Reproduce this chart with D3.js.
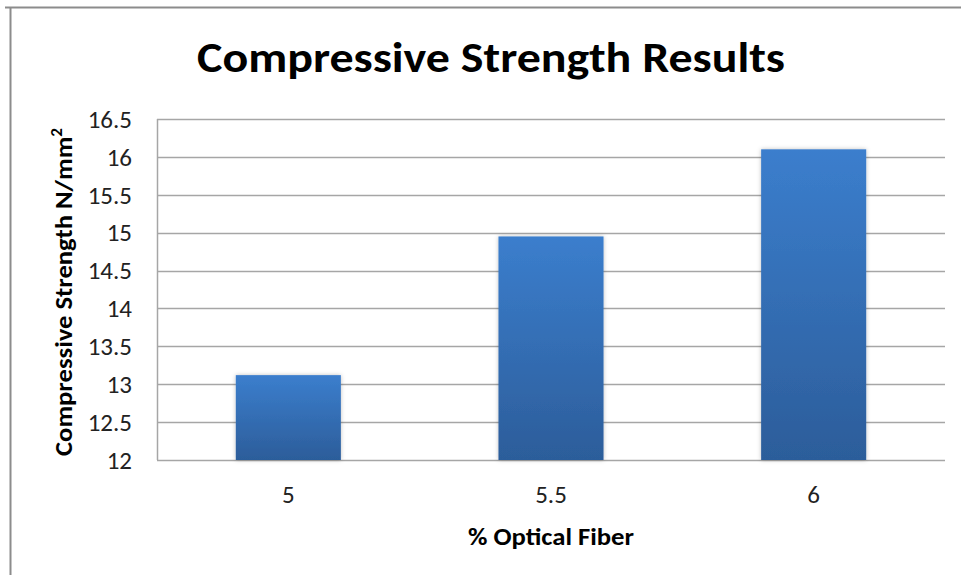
<!DOCTYPE html>
<html><head><meta charset="utf-8">
<script src="https://cdn.jsdelivr.net/npm/d3@7"></script>
<style>body{margin:0;background:#fff}svg{display:block}</style>
</head><body>
<script>
const categories = ["5", "5.5", "6"];
const values = [13.12, 14.95, 16.1];
const yTicks = [12, 12.5, 13, 13.5, 14, 14.5, 15, 15.5, 16, 16.5];
const title = "Compressive Strength Results";
const xTitle = "% Optical Fiber";

const W = 961, H = 575;
const m = {left: 157, right: 945, top: 119, bottom: 460};
const svg = d3.select("body").append("svg").attr("width", W).attr("height", H);
const font = "Carlito, 'Open Sans', 'Liberation Sans', sans-serif";

// frame
svg.append("line").attr("x1", 10.5).attr("x2", 10.5).attr("y1", 8).attr("y2", H).attr("stroke", "#8c8c8c").attr("stroke-width", 2);
svg.append("line").attr("x1", 5).attr("x2", W).attr("y1", 7.5).attr("y2", 7.5).attr("stroke", "#8c8c8c").attr("stroke-width", 2);

const defs = svg.append("defs");
const grad = defs.append("linearGradient").attr("id", "bg").attr("x1", 0).attr("x2", 0).attr("y1", 0).attr("y2", 1);
grad.append("stop").attr("offset", "0%").attr("stop-color", "#3b7ecd");
grad.append("stop").attr("offset", "100%").attr("stop-color", "#2c5d9a");
const f = defs.append("filter").attr("id", "sh").attr("x", "-20%").attr("y", "-20%").attr("width", "140%").attr("height", "140%");
f.append("feDropShadow").attr("dx", 0).attr("dy", 0).attr("stdDeviation", 2).attr("flood-color", "#000").attr("flood-opacity", 0.25);

const y = d3.scaleLinear().domain([12, 16.5]).range([m.bottom, m.top]);
const x = d3.scaleBand().domain(categories).range([m.left, m.right]).paddingInner(0).paddingOuter(0);
const barW = x.bandwidth() * 0.4;

// gridlines
svg.append("g").selectAll("line").data(yTicks).join("line")
  .attr("x1", m.left).attr("x2", m.right)
  .attr("y1", d => Math.round(y(d)) + 0.5).attr("y2", d => Math.round(y(d)) + 0.5)
  .attr("stroke", "#a6a6a6").attr("stroke-width", 1.5);
svg.append("line").attr("x1", m.left + 0.5).attr("x2", m.left + 0.5).attr("y1", m.top).attr("y2", m.bottom)
  .attr("stroke", "#a6a6a6").attr("stroke-width", 1.5);

// bars
svg.append("g").selectAll("rect").data(values).join("rect")
  .attr("x", (d, i) => x(categories[i]) + x.bandwidth() / 2 - barW / 2)
  .attr("width", barW)
  .attr("y", d => y(d))
  .attr("height", d => y(12) - y(d))
  .attr("fill", "url(#bg)")
  .attr("filter", "url(#sh)");

// y tick labels
svg.append("g").selectAll("text").data(yTicks).join("text")
  .attr("x", 132).attr("y", d => y(d)).attr("dy", "0.35em")
  .attr("text-anchor", "end").attr("font-family", font).attr("font-size", 25).attr("fill", "#222")
  .text(d => d);

// x tick labels
svg.append("g").selectAll("text").data(categories).join("text")
  .attr("x", d => x(d) + x.bandwidth() / 2).attr("y", 503)
  .attr("text-anchor", "middle").attr("font-family", font).attr("font-size", 25).attr("fill", "#222")
  .text(d => d);

// titles
svg.append("text").attr("x", 491).attr("y", 72).attr("text-anchor", "middle")
  .attr("font-family", font).attr("font-weight", "bold").attr("font-size", 43).attr("fill", "#000")
  .attr("textLength", 588).attr("lengthAdjust", "spacingAndGlyphs")
  .text(title);
svg.append("text").attr("x", 551).attr("y", 545).attr("text-anchor", "middle")
  .attr("font-family", font).attr("font-weight", "bold").attr("font-size", 25).attr("fill", "#000")
  .attr("textLength", 166).attr("lengthAdjust", "spacingAndGlyphs")
  .text(xTitle);
const yt = svg.append("text").attr("transform", "translate(72,292) rotate(-90)").attr("text-anchor", "middle")
  .attr("font-family", font).attr("font-weight", "bold").attr("font-size", 25).attr("fill", "#000")
  .attr("textLength", 328).attr("lengthAdjust", "spacingAndGlyphs");
yt.append("tspan").text("Compressive Strength N/mm");
yt.append("tspan").attr("font-size", 16).attr("dy", "-0.6em").text("2");
</script>
</body></html>
